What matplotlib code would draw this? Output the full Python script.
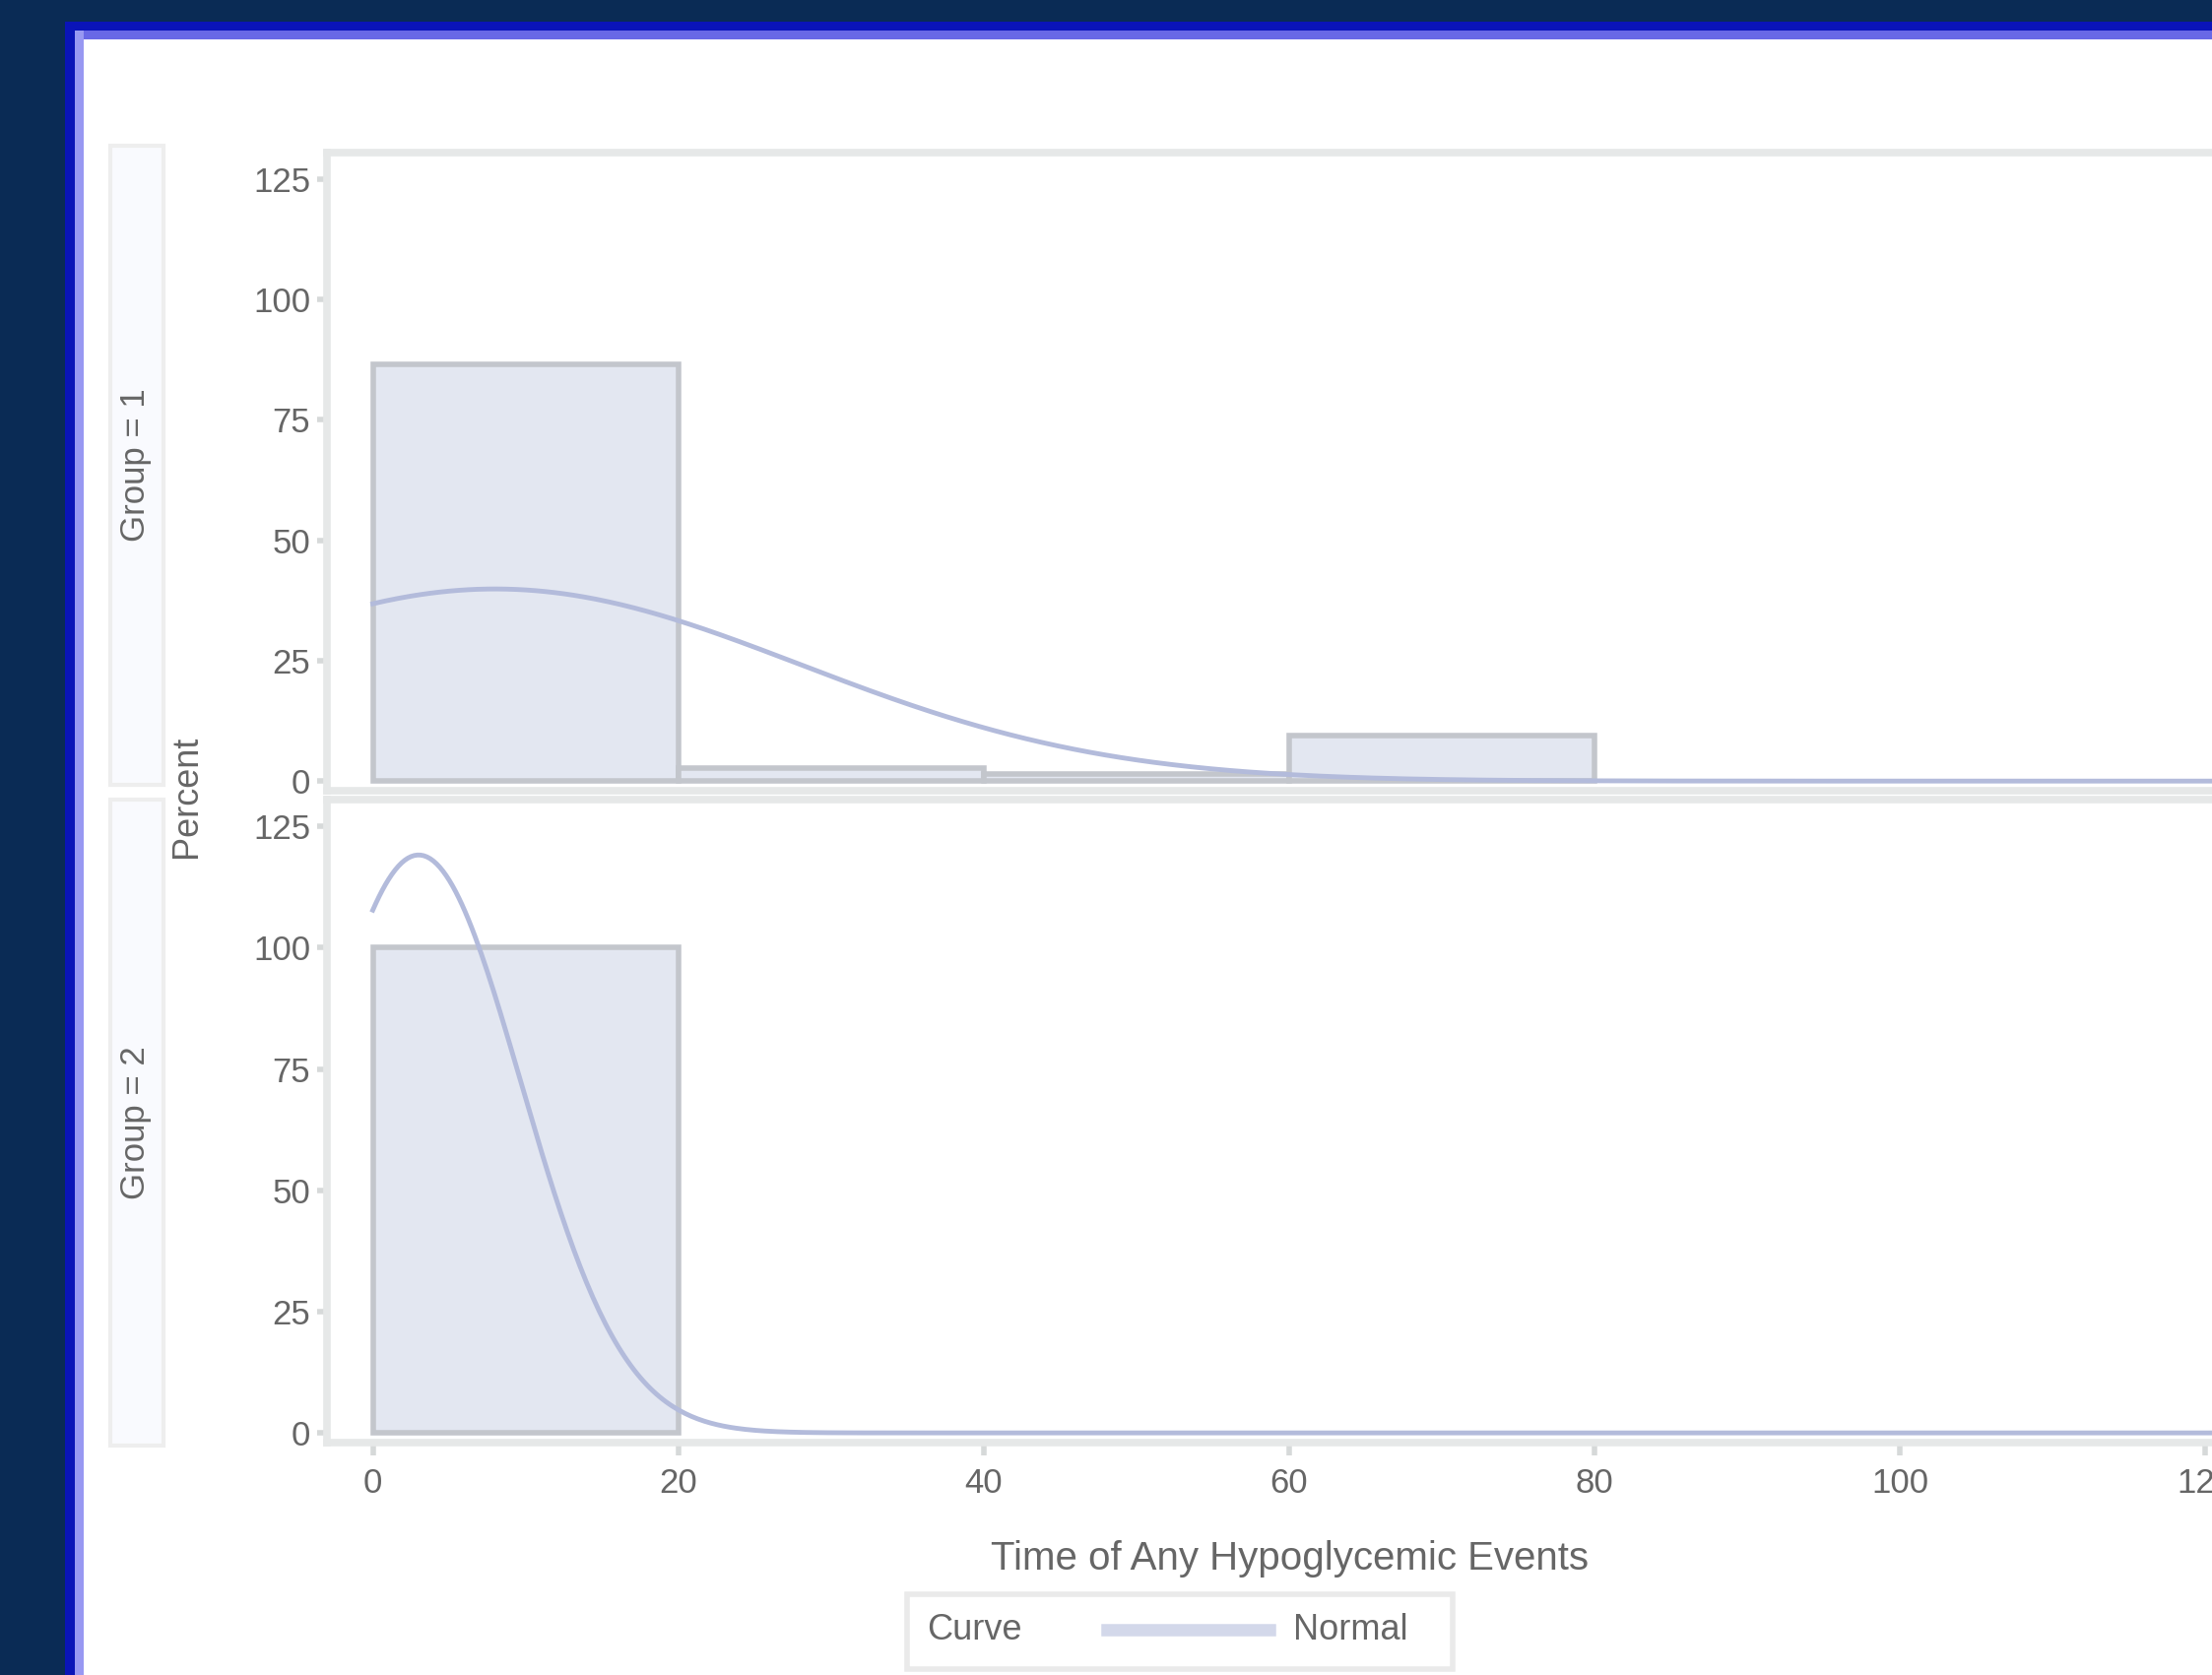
import numpy as np
import matplotlib
matplotlib.use('Agg')
from matplotlib import pyplot as plt
from matplotlib.patches import Rectangle
from matplotlib.lines import Line2D

plt.rcParams['font.family'] = ['Liberation Sans', 'DejaVu Sans']

# histogram data (percent per 20-unit bin)
bin_edges = [0, 20, 40, 60, 80, 100]
group1_pct = [86.5, 2.7, 1.4, 9.5, 0.0]
group2_pct = [100.0, 0.0, 0.0, 0.0, 0.0]

# fitted normal curves (mean, std)
group1_fit = (8.0, 20.0)
group2_fit = (3.0, 6.7)

group_labels = ['Group = 1', 'Group = 2']
x_ticks = [0, 20, 40, 60, 80, 100, 120]
y_ticks = [0, 25, 50, 75, 100, 125]

W, H = 2246, 1701
BG = '#0a2b55'
BAR_FILL = '#e3e7f1'
BAR_EDGE = '#c3c6cc'
CURVE = '#b3bbdb'
FRAME = '#e6e8e8'
TXT = '#666666'


def fx(px):
    return px / W


def fy(py):
    return 1 - py / H


def frect(x0, y0, x1, y1, **kw):
    # rectangle given in pixel coords (top-left origin)
    return Rectangle((fx(x0), fy(y1)), fx(x1) - fx(x0), fy(y0) - fy(y1),
                     transform=fig.transFigure, **kw)


fig = plt.figure(figsize=(W / 100, H / 100), dpi=100)
fig.patch.set_facecolor(BG)

# window border and white page
fig.add_artist(frect(66, 22, W, H, facecolor='#0a14b8', edgecolor='none', zorder=-6))
fig.add_artist(frect(76, 31, W, 40, facecolor='#6868e6', edgecolor='none', zorder=-5))
fig.add_artist(frect(76, 31, 85, H, facecolor='#9898f2', edgecolor='none', zorder=-5))
fig.add_artist(frect(85, 40, W, H, facecolor='white', edgecolor='none', zorder=-4))

# panel rows: (top px, bottom px) of plot area and header strip
rows = [(155, 803, 148, 797), (812, 1465, 812, 1468)]
ax_left, ax_right = 332, 2286
data = [(group1_pct, group1_fit), (group2_pct, group2_fit)]

for i, ((top, bot, htop, hbot), (pct, fit)) in enumerate(zip(rows, data)):
    ax = fig.add_axes([fx(ax_left), fy(bot), fx(ax_right) - fx(ax_left), fy(top) - fy(bot)])
    ax.set_facecolor('white')

    lefts = [e for e, p in zip(bin_edges, pct) if p > 0]
    heights = [p for p in pct if p > 0]
    ax.bar(lefts, heights, width=20, align='edge', color=BAR_FILL,
           edgecolor=BAR_EDGE, linewidth=4, zorder=2)

    mu, sd = fit
    xs = np.linspace(0, 125, 600)
    ys = 100 * 20 / (sd * np.sqrt(2 * np.pi)) * np.exp(-0.5 * ((xs - mu) / sd) ** 2)
    ax.plot(xs, ys, color=CURVE, linewidth=3.5, zorder=3)

    ax.set_xlim(-3, 123)
    ax.set_ylim(-2, 130.5)
    ax.set_yticks(y_ticks)
    ax.set_xticks(x_ticks)
    for s in ax.spines.values():
        s.set_color(FRAME)
        s.set_linewidth(5.5)
    ax.tick_params(axis='y', length=7, width=4, color='#d6d9d9', pad=5,
                   labelsize=25, labelcolor=TXT)
    ax.tick_params(axis='x', length=9, width=4, color='#d6d9d9', pad=9,
                   labelsize=25, labelcolor=TXT)
    if i == 0:
        ax.tick_params(axis='x', bottom=False, labelbottom=False)

    # row header strip
    fig.add_artist(frect(112, htop, 166, hbot, facecolor='#f9fafe',
                         edgecolor='#eeeeee', linewidth=3, zorder=1))
    fig.text(fx(138), fy((htop + hbot) / 2), group_labels[i], rotation=90,
             ha='center', va='center', fontsize=25, color=TXT)

fig.text(fx(190), fy(809), 'Percent', rotation=90, ha='center', va='center',
         fontsize=26, color=TXT)
fig.text(fx(1310), fy(1583), 'Time of Any Hypoglycemic Events', ha='center',
         va='center', fontsize=29, color=TXT)

# legend box
fig.add_artist(frect(921, 1619, 1475, 1695, facecolor='white', edgecolor='#eaeaea',
                     linewidth=4, zorder=1))
fig.text(fx(941), fy(1655), 'Curve', ha='left', va='center', fontsize=26, color=TXT)
fig.add_artist(Line2D([fx(1124), fx(1289)], [fy(1655), fy(1655)], color='#d3d8ea',
                      linewidth=9, transform=fig.transFigure))
fig.text(fx(1313), fy(1655), 'Normal', ha='left', va='center', fontsize=26, color=TXT)

fig.savefig('out.png', dpi=100, facecolor=fig.get_facecolor())
